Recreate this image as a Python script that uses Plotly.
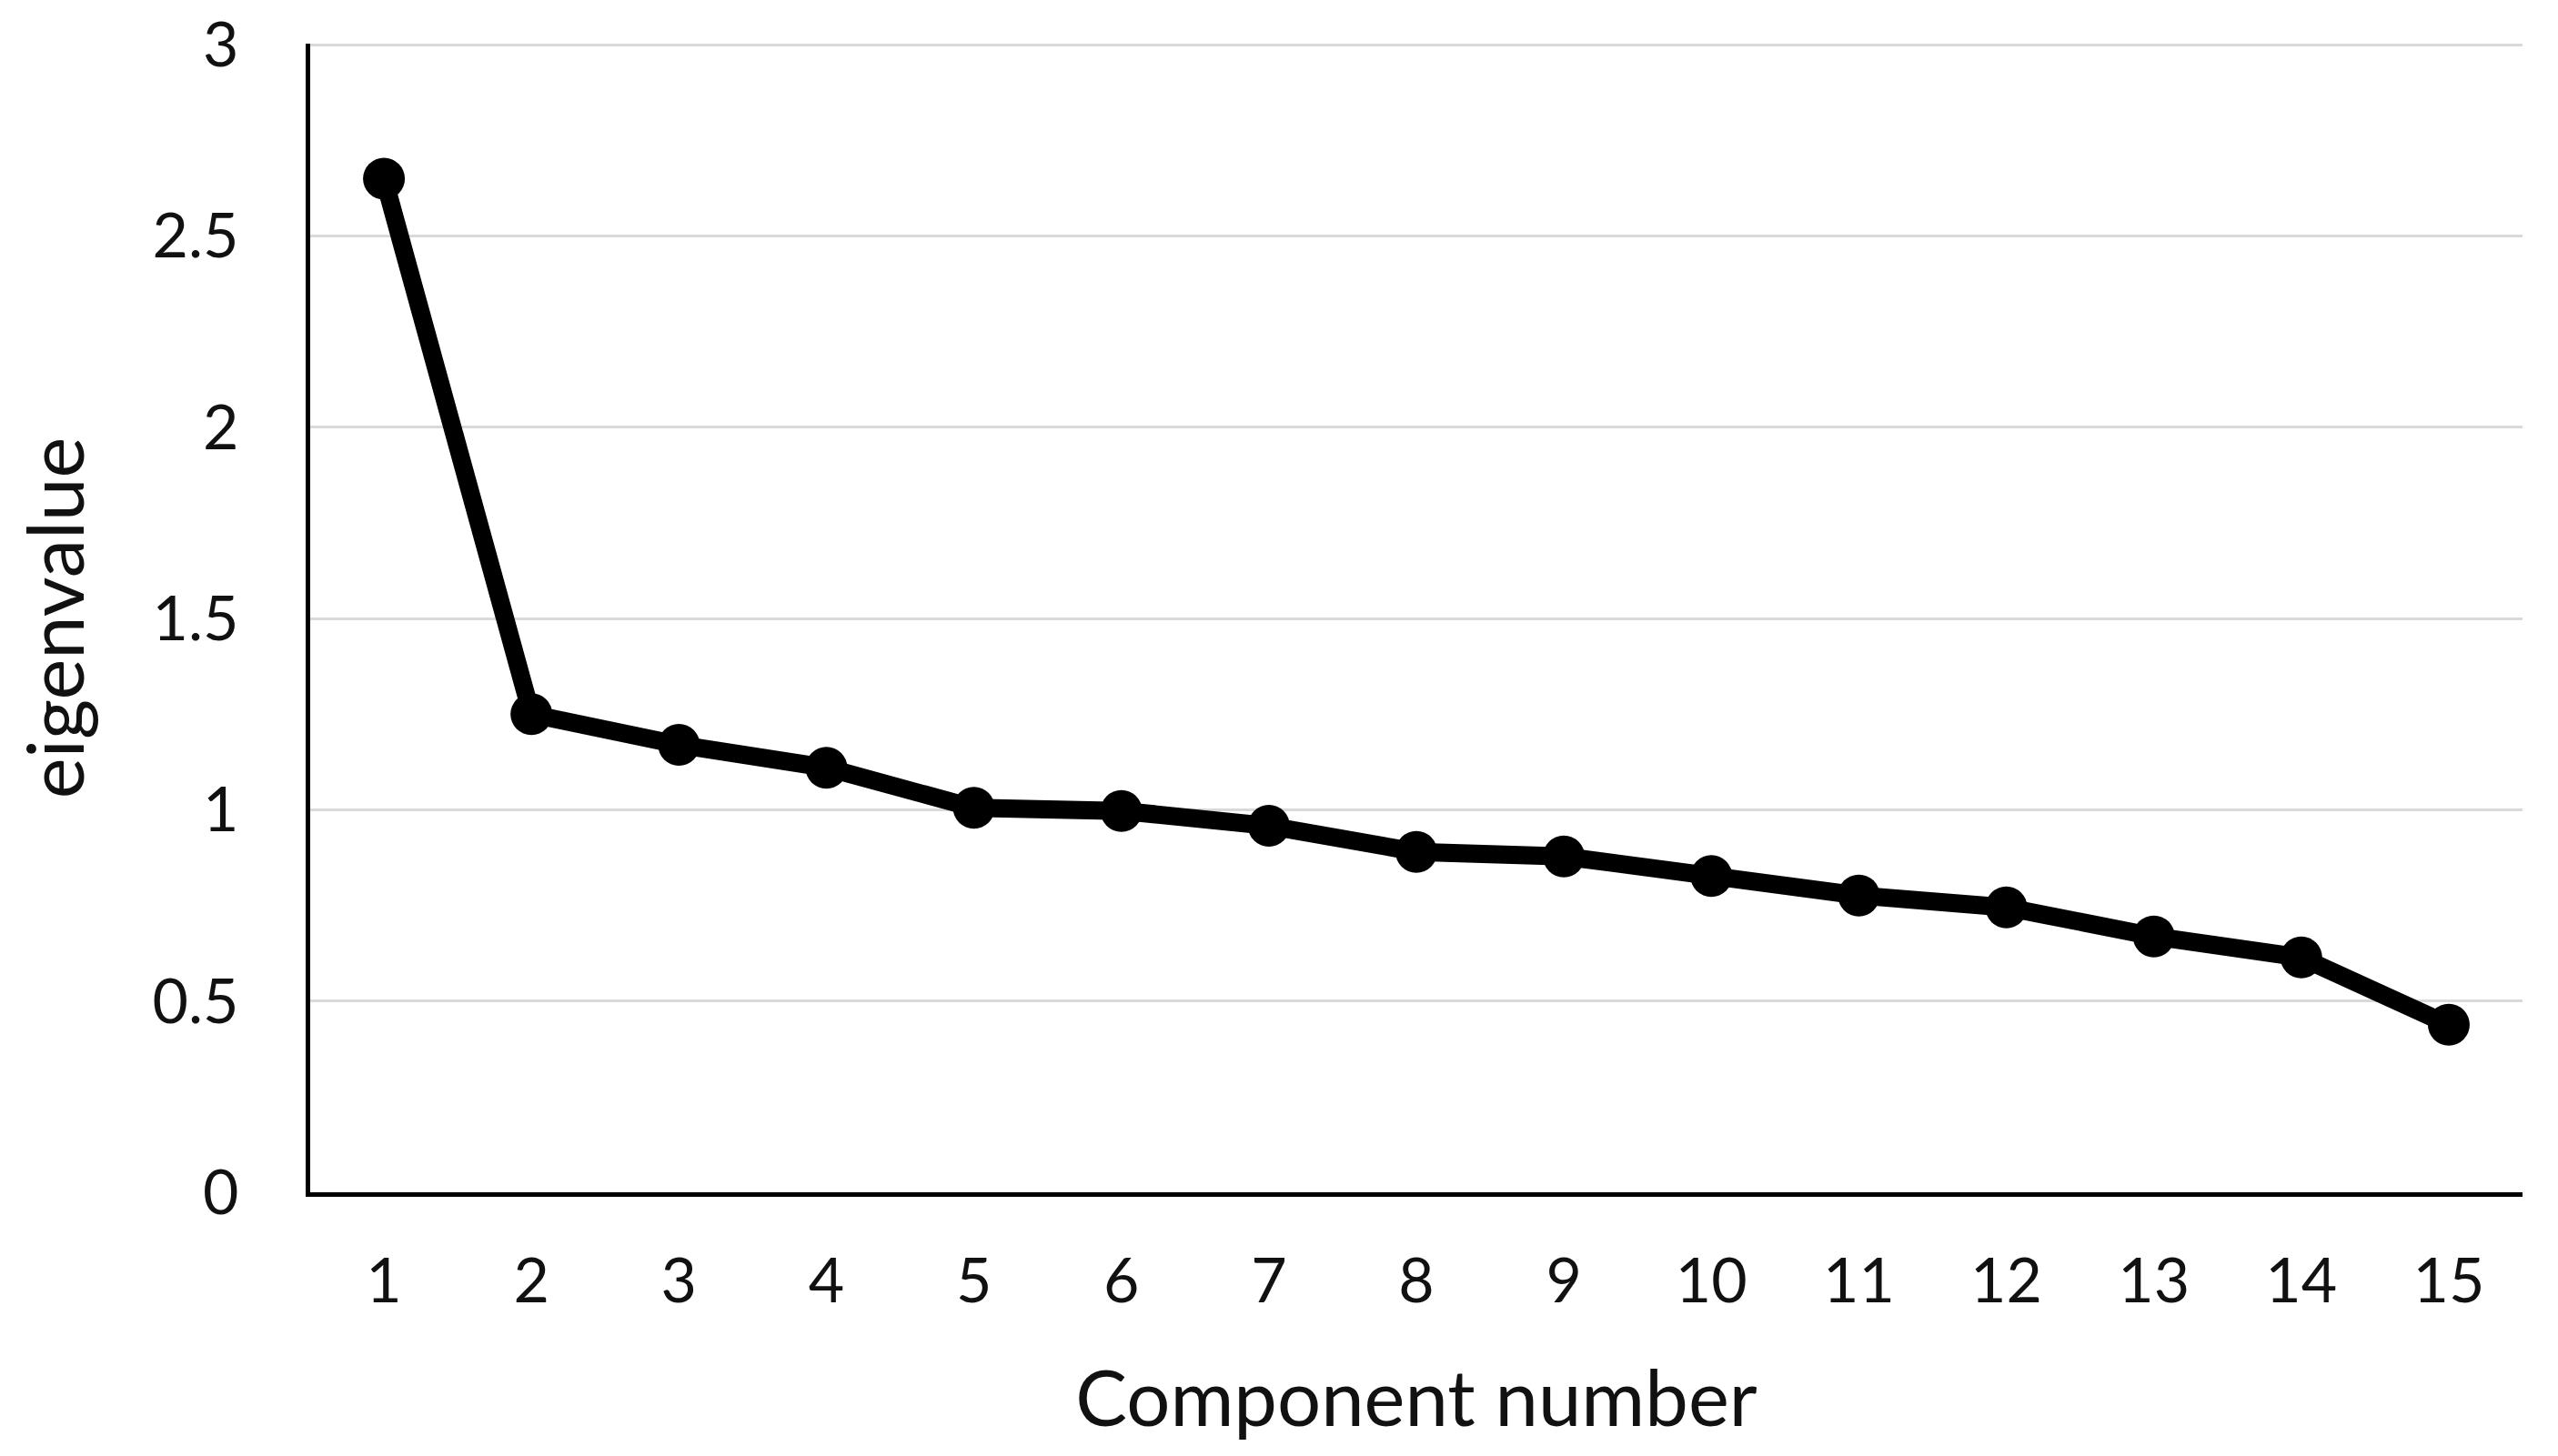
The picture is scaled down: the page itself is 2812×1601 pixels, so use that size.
import plotly.graph_objects as go

components = list(range(1, 16))
eigenvalues = [2.65, 1.25, 1.17, 1.11, 1.005, 0.997, 0.958, 0.89, 0.878, 0.827, 0.776, 0.745, 0.669, 0.614, 0.438]
y_ticks = [0, 0.5, 1, 1.5, 2, 2.5, 3]
y_ticktext = ["0", "0.5", "1", "1.5", "2", "2.5", "3"]

FONT = "Lato"

fig = go.Figure()
fig.add_trace(go.Scatter(
    x=components, y=eigenvalues, mode="lines+markers",
    line=dict(color="black", width=20),
    marker=dict(color="black", size=46),
    showlegend=False,
))

fig.update_layout(
    width=2804, height=1593,
    paper_bgcolor="white", plot_bgcolor="white",
    margin=dict(l=333, r=39, t=40, b=290, autoexpand=False),
    font=dict(family=FONT, color="black"),
)
fig.update_xaxes(
    range=[0.5, 15.5], tickmode="array", tickvals=components,
    ticktext=[str(c) for c in components],
    tickfont=dict(size=68, family=FONT, color="#111"),
    showgrid=False, zeroline=False,
    showline=True, linecolor="black", linewidth=5,
    ticks="outside", ticklen=34, tickcolor="rgba(0,0,0,0)",
    ticklabeloverflow="allow", automargin=False,
    title=dict(text="Component number", font=dict(size=85, family=FONT, color="#111"), standoff=65),
)
fig.update_yaxes(
    range=[0, 3.003], tickmode="array", tickvals=y_ticks, ticktext=y_ticktext,
    tickfont=dict(size=68, family=FONT, color="#111"),
    showgrid=True, gridcolor="#d9d9d9", gridwidth=3,
    zeroline=False,
    showline=True, linecolor="black", linewidth=5,
    ticks="outside", ticklen=60, tickcolor="rgba(0,0,0,0)",
    ticklabeloverflow="allow", automargin=False,
    title=dict(text="eigenvalue", font=dict(size=85, family=FONT, color="#111"), standoff=49),
)

fig.write_html("out.html")
